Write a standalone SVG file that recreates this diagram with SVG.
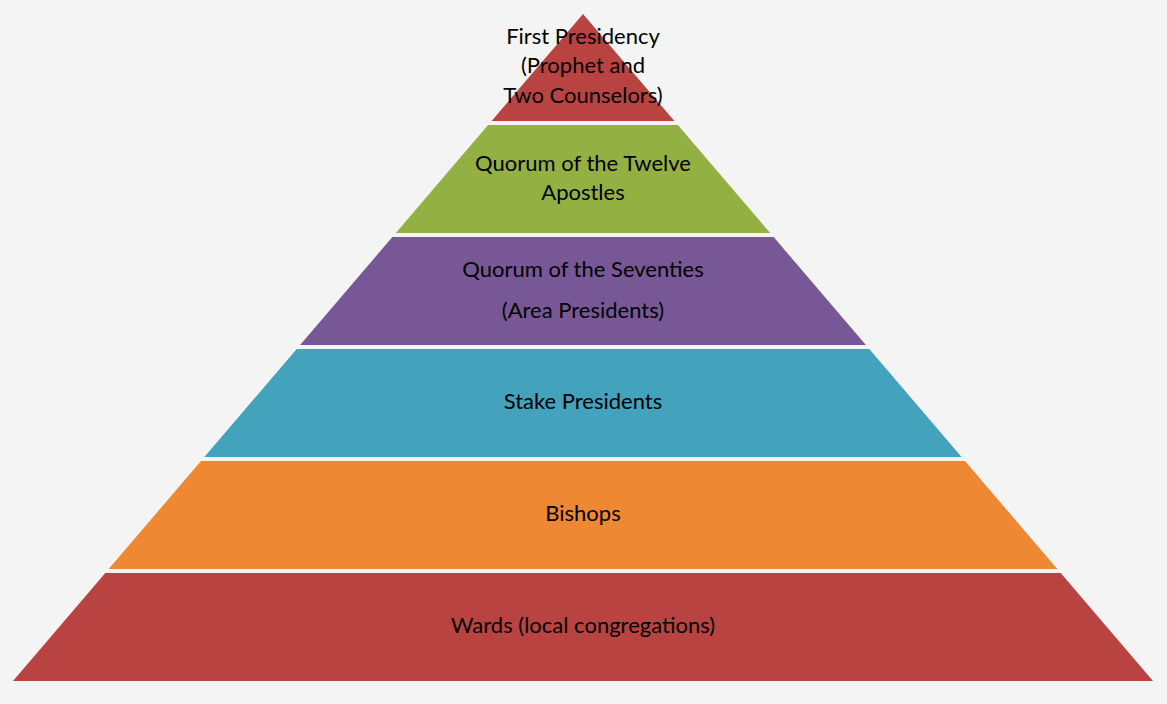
<svg xmlns="http://www.w3.org/2000/svg" width="1167" height="704" viewBox="0 0 1167 704">
<style>
text{font-family:Lato,"Open Sans","Liberation Sans",sans-serif;font-size:22px;fill:#000;text-anchor:middle}
</style>
<rect width="1167" height="704" fill="#f4f4f4"/>
<g id="first-presidency"><polygon points="583,14 674.4,121 491.6,121" fill="#b94340"/>
<text x="583" y="44">First Presidency</text><text x="583" y="73">(Prophet and</text><text x="583" y="103">Two Counselors)</text></g>
<g id="twelve-apostles"><polygon points="488.1,125 677.9,125 770.2,233 395.8,233" fill="#93b043"/>
<text x="583" y="171">Quorum of the Twelve</text><text x="583" y="200">Apostles</text></g>
<g id="seventies"><polygon points="392.4,237 773.6,237 865.9,345 300.1,345" fill="#785796"/>
<text x="583" y="277">Quorum of the Seventies</text><text x="583" y="318">(Area Presidents)</text></g>
<g id="stake-presidents"><polygon points="296.7,349 869.3,349 961.6,457 204.4,457" fill="#43a2bc"/>
<text x="583" y="409">Stake Presidents</text></g>
<g id="bishops"><polygon points="201,461 965,461 1057.3,569 108.7,569" fill="#ee8833"/>
<text x="583" y="521">Bishops</text></g>
<g id="wards"><polygon points="105.3,573 1060.7,573 1153,681 13,681" fill="#b94340"/>
<text x="583" y="633">Wards (local congregations)</text></g>
<g id="connectors"/>
</svg>
